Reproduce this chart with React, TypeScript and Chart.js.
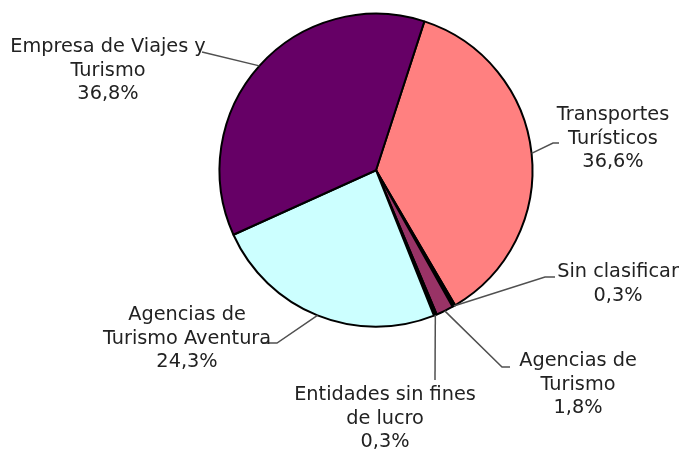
import React, { useEffect, useRef } from "react";
import { Chart, registerables } from "chart.js";

Chart.register(...registerables);

const categories = [
  "Transportes Turísticos",
  "Sin clasificar",
  "Agencias de Turismo",
  "Entidades sin fines de lucro",
  "Agencias de Turismo Aventura",
  "Empresa de Viajes y Turismo",
];
const values = [36.6, 0.3, 1.8, 0.3, 24.3, 36.8];
const colors = ["#FF8080", "#000000", "#993366", "#000000", "#CCFFFF", "#660066"];
const labelLines = [
  ["Transportes", "Turísticos", "36,6%"],
  ["Sin clasificar", "0,3%"],
  ["Agencias de", "Turismo", "1,8%"],
  ["Entidades sin fines", "de lucro", "0,3%"],
  ["Agencias de", "Turismo Aventura", "24,3%"],
  ["Empresa de Viajes y", "Turismo", "36,8%"],
];

// label layout (text centre x, first line y, leader elbow & end points) in canvas px
const labelLayout = [
  { x: 613, y: 115, elbow: [553, 143], end: [559, 143] },
  { x: 618, y: 272, elbow: [545, 277], end: [555, 277] },
  { x: 578, y: 361, elbow: [502, 367], end: [510, 367] },
  { x: 385, y: 395, elbow: [435, 380], end: [435, 380] },
  { x: 187, y: 315, elbow: [277, 343], end: [262, 343] },
  { x: 108, y: 47, elbow: [202, 52], end: [202, 52] },
];

const labelPlugin = {
  id: "pieLabels",
  afterDraw(chart: any) {
    const ctx = chart.ctx;
    const meta = chart.getDatasetMeta(0);
    ctx.save();
    ctx.font = "19.3px 'DejaVu Sans'";
    ctx.textAlign = "center";
    ctx.textBaseline = "middle";
    meta.data.forEach((arc: any, i: number) => {
      const mid = (arc.startAngle + arc.endAngle) / 2;
      const ax = arc.x + Math.cos(mid) * arc.outerRadius;
      const ay = arc.y + Math.sin(mid) * arc.outerRadius;
      const L = labelLayout[i];
      ctx.strokeStyle = "#505050";
      ctx.lineWidth = 1.5;
      ctx.beginPath();
      ctx.moveTo(ax, ay);
      ctx.lineTo(L.elbow[0], L.elbow[1]);
      ctx.lineTo(L.end[0], L.end[1]);
      ctx.stroke();
      ctx.fillStyle = "#222222";
      labelLines[i].forEach((t, j) => {
        ctx.fillText(t, L.x, L.y + j * 23.5);
      });
    });
    ctx.restore();
  },
};

export default function App() {
  const ref = useRef<HTMLCanvasElement>(null);
  useEffect(() => {
    if (!ref.current) return;
    const chart = new Chart(ref.current, {
      type: "pie",
      data: {
        labels: categories,
        datasets: [
          {
            data: values,
            backgroundColor: colors,
            borderColor: "#000000",
            borderWidth: 2,
          },
        ],
      },
      options: {
        responsive: false,
        animation: false,
        rotation: 18,
        layout: { padding: { top: 12.5, bottom: 121, left: 218.5, right: 148.5 } },
        plugins: { legend: { display: false }, tooltip: { enabled: false } },
      },
      plugins: [labelPlugin],
    });
    return () => chart.destroy();
  }, []);
  return (
    <div style={{ width: 666, height: 433 }}>
      <canvas
        ref={ref}
        width={682}
        height={449}
        style={{ display: "block", position: "fixed", left: 0, top: 0, width: 682, height: 449 }}
      />
    </div>
  );
}
